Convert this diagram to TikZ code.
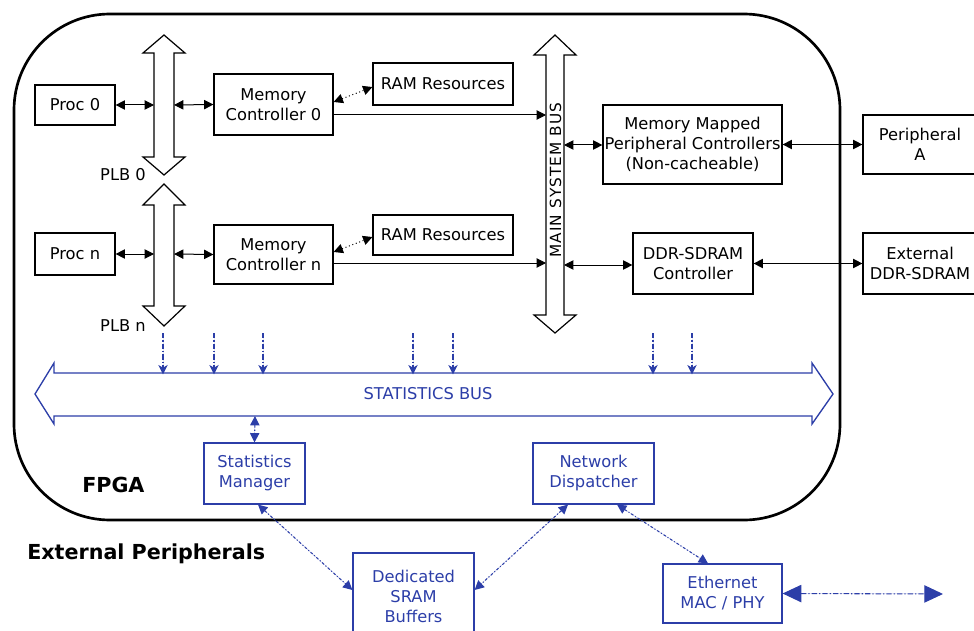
\documentclass[tikz,border=0pt]{standalone}
\usepackage{fontspec}
\setmainfont{DejaVu Sans}
\usetikzlibrary{arrows.meta,calc}
\definecolor{busblue}{RGB}{44,62,168}
\begin{document}
\begin{tikzpicture}[x=0.75pt,y=-0.75pt,
  font=\fontsize{12.2}{15}\selectfont,
  sz/.style 2 args={minimum width=#1*0.75pt, minimum height=#2*0.75pt},
  box/.style={draw, line width=0.9pt, inner sep=0pt, align=center},
  bbox/.style={box, draw=busblue, text=busblue},
  bus/.style={draw, line width=0.9pt, fill=white},
  sbus/.style={draw=busblue, line width=1pt, fill=white},
  conn/.style={{Triangle[length=7pt,width=7pt]}-{Triangle[length=7pt,width=7pt]}, line width=0.75pt},
  toBus/.style={-{Triangle[length=7pt,width=7pt]}, line width=0.75pt},
  ramlink/.style={{Triangle[length=7pt,width=7pt]}-{Triangle[length=7pt,width=7pt]}, line width=0.75pt, dotted},
  tap/.style={-{Stealth[length=7pt,width=7pt,inset=2pt,sep=-1pt]}, draw=busblue, fill=busblue, line width=0.9pt,
    dash pattern=on 4pt off 1.5pt on 1pt off 1.5pt},
  blink/.style={{Triangle[length=7pt,width=7pt]}-{Triangle[length=7pt,width=7pt]},
    draw=busblue, fill=busblue, line width=0.8pt, dash pattern=on 2pt off 1.5pt on 0.8pt off 1.5pt},
  biglink/.style={{Triangle[length=14pt,width=13pt]}-{Triangle[length=14pt,width=13pt]},
    draw=busblue, fill=busblue, line width=0.8pt, dash pattern=on 4pt off 1.5pt on 1pt off 1.5pt},
  title/.style={font=\fontsize{15.5}{18}\selectfont\bfseries, inner sep=0pt}
]
\useasboundingbox (0,0) rectangle (974,631);

% FPGA outline
\draw[line width=2pt, rounded corners=72pt] (14,14) rectangle (840,520);

% processor local buses
\draw[bus] (164,35) -- (185,53) -- (174,53) -- (174,157) -- (185,157) -- (164,175)
  -- (143,157) -- (154,157) -- (154,53) -- (143,53) -- cycle;
\draw[bus] (164,184) -- (185,205) -- (174,205) -- (174,306) -- (185,306) -- (164,326)
  -- (143,306) -- (154,306) -- (154,205) -- (143,205) -- cycle;
\node at (123,175) {PLB 0};
\node at (123,326) {PLB n};

% main system bus
\draw[bus] (555,35) -- (576,55) -- (564,55) -- (564,315) -- (576,315) -- (555,333)
  -- (534,315) -- (546,315) -- (546,55) -- (534,55) -- cycle;
\node[rotate=90, inner sep=0pt, font=\fontsize{11.5}{13}\selectfont\addfontfeature{LetterSpace=7}]
  at (555.5,180) {MAIN SYSTEM BUS};

% statistics bus
\draw[sbus] (35,394) -- (54,363) -- (54,373) -- (812,373) -- (812,363) -- (833,394)
  -- (812,424) -- (812,416) -- (54,416) -- (54,424) -- cycle;
\node[text=busblue] at (428,394) {STATISTICS BUS};

% bus attachment points
\coordinate (p0l) at (154,105);
\coordinate (p0r) at (174,105);
\coordinate (pnl) at (154,254);
\coordinate (pnr) at (174,254);
\coordinate (mb0) at (546,115);
\coordinate (mbn) at (546,263);
\coordinate (mbp) at (564,145);
\coordinate (mbd) at (564,265);
\coordinate (sbb) at (255,416);
\coordinate (ethout) at (943,594);

% blocks inside the FPGA
\node[box, sz={80}{40}] (proc0) at (75,105) {Proc 0};
\node[box, sz={119}{61}] (mc0) at (273.5,104.5) {Memory\\Controller 0};
\node[box, sz={140}{42}] (ram0) at (443,84) {RAM Resources};
\node[box, sz={80}{42}] (procn) at (75,254) {Proc n};
\node[box, sz={119}{59}] (mcn) at (273.5,254.5) {Memory\\Controller n};
\node[box, sz={140}{40}] (ramn) at (443,235) {RAM Resources};
\node[box, sz={179}{79}] (mmpc) at (692.5,144.5) {Memory Mapped\\Peripheral Controllers\\(Non-cacheable)};
\node[box, sz={120}{61}] (ddrc) at (693,263.5) {DDR-SDRAM\\Controller};

% external memory and peripherals
\node[box, sz={114}{59}] (perA) at (920,144.5) {Peripheral\\A};
\node[box, sz={114}{61}] (extddr) at (920,263.5) {External\\DDR-SDRAM};

% statistics and network blocks
\node[bbox, sz={101}{61}] (sm) at (254.5,473.5) {Statistics\\Manager};
\node[bbox, sz={121}{61}] (nd) at (593.5,473.5) {Network\\Dispatcher};
\node[bbox, sz={121}{86}] (sram) at (413.5,596) {Dedicated\\SRAM\\Buffers};
\node[bbox, sz={119}{59}] (eth) at (722.5,593.5) {Ethernet\\MAC / PHY};

% labels
\node[title, anchor=base west] at (82,492) {FPGA};
\node[title, anchor=base west] at (27,559) {External Peripherals};

% processor and memory controller links
\draw[conn] (proc0.east) -- (p0l);
\draw[conn] (mc0.west) -- (p0r);
\draw[conn] (procn.east) -- (pnl);
\draw[conn] (mcn.west) -- (pnr);
\draw[ramlink] (mc0.east |- 0,102) -- (ram0.west |- 0,87);
\draw[ramlink] (mcn.east |- 0,252) -- (ramn.west |- 0,237);
\draw[toBus] (mc0.east |- mb0) -- (mb0);
\draw[toBus] (mcn.east |- mbn) -- (mbn);
\draw[conn] (mbp) -- (mmpc.west |- mbp);
\draw[conn] (mbd) -- (ddrc.west |- mbd);
\draw[conn] (mmpc.east) -- (perA.west);
\draw[conn] (ddrc.east) -- (extddr.west);

% taps onto the statistics bus
\foreach \tx in {163,214,263,413,453,653,692}
  \draw[tap] (\tx,333) -- (\tx,373);

% statistics and network links
\draw[blink] (sbb) -- (sm.north);
\draw[blink] (sm.south -| 258,0) -- (sram.west |- 0,590);
\draw[blink] (nd.south -| 568,0) -- (sram.east |- 0,590);
\draw[blink] (nd.south -| 617,0) -- (eth.north -| 708,0);
\draw[biglink] (eth.east) -- (ethout);
\end{tikzpicture}
\end{document}
